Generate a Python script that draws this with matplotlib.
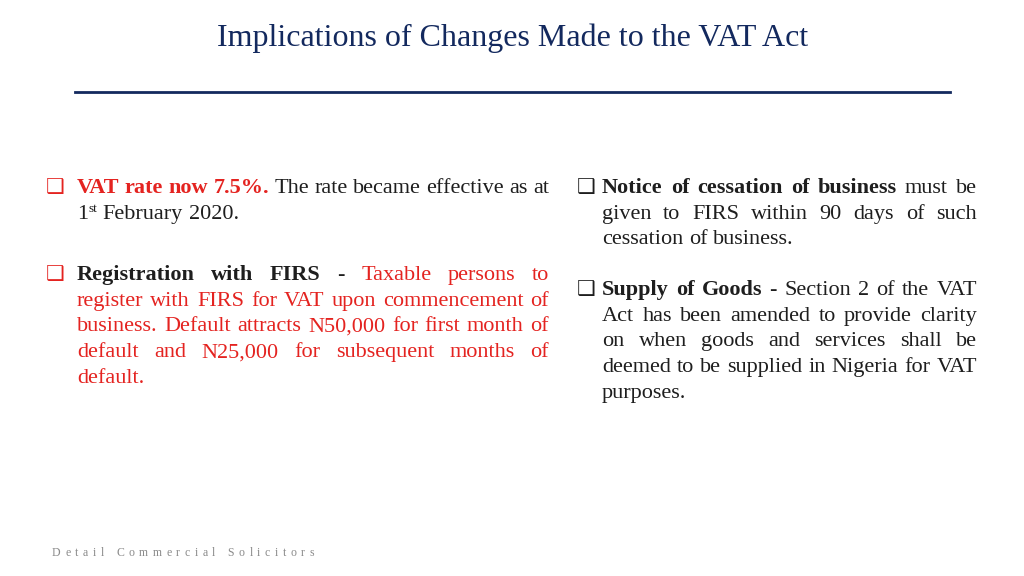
import matplotlib
matplotlib.use('Agg')
import matplotlib.pyplot as plt
from matplotlib.transforms import IdentityTransform
from matplotlib.lines import Line2D

W, H = 1024, 576
RED = '#E42320'
INK = '#1E1E1E'
NAVY = '#13295E'
GREY = '#8A8A8A'
SERIF = 'Liberation Serif'

title = 'Implications of Changes Made to the VAT Act'
footer = 'Detail Commercial Solicitors'

# paragraphs: each line is a list of (text, style, colour); style b = bold, n = normal, sup = superscript
left_paras = [
    [
        [('VAT rate now 7.5%.', 'b', RED), ('The rate became effective as at', 'n', INK)],
        [('1', 'n', INK), ('st', 'sup', INK), ('February 2020.', 'n', INK)],
    ],
    [
        [('Registration with FIRS', 'b', INK), ('-', 'n', INK), ('Taxable persons to', 'n', RED)],
        [('register with FIRS for VAT upon commencement of', 'n', RED)],
        [('business. Default attracts N50,000 for first month of', 'n', RED)],
        [('default and N25,000 for subsequent months of', 'n', RED)],
        [('default.', 'n', RED)],
    ],
]
right_paras = [
    [
        [('Notice of cessation of business', 'b', INK), ('must be', 'n', INK)],
        [('given to FIRS within 90 days of such', 'n', INK)],
        [('cessation of business.', 'n', INK)],
    ],
    [
        [('Supply of Goods', 'b', INK), ('- Section 2 of the VAT', 'n', INK)],
        [('Act has been amended to provide clarity', 'n', INK)],
        [('on when goods and services shall be', 'n', INK)],
        [('deemed to be supplied in Nigeria for VAT', 'n', INK)],
        [('purposes.', 'n', INK)],
    ],
]

fig = plt.figure(figsize=(W / 100, H / 100), dpi=100)
fig.patch.set_facecolor('white')
r = fig.canvas.get_renderer()
T = IdentityTransform()
FS = 16.0
LEAD = 25.7


def txt(x, base, s, **kw):
    return fig.text(x, H - base, s, transform=T, va='baseline', ha='left', **kw)


def style_kw(style, color):
    kw = dict(family=SERIF, color=color, fontsize=FS)
    if style == 'b':
        kw['weight'] = 'bold'
    if style == 'sup':
        kw['fontsize'] = FS * 0.6
    return kw


def width(s, **kw):
    t = fig.text(0, 0, s, transform=T, **kw)
    w = t.get_window_extent(r).width
    t.remove()
    return w


SPACE = width('a a', family=SERIF, fontsize=FS) - width('aa', family=SERIF, fontsize=FS)


def draw_line(line, x0, x1, base, justify):
    # words: list of lists of pieces glued together
    words = []
    for text, style, color in line:
        if style == 'sup':
            words[-1].append((text, style, color))
            continue
        for w in text.split(' '):
            words.append([(w, style, color)])
    widths = [sum(width(p[0], **style_kw(p[1], p[2])) for p in w) for w in words]
    gap = SPACE
    if justify and len(words) > 1:
        gap = (x1 - x0 - sum(widths)) / (len(words) - 1)
    x = x0
    for w, ww in zip(words, widths):
        xx = x
        for text, style, color in w:
            kw = style_kw(style, color)
            b = base - 7 if style == 'sup' else base
            txt(xx, b, text, **kw)
            xx += width(text, **kw)
        x += ww + gap


def draw_column(paras, bx, bcolor, x0, x1, bases):
    for para, b0 in zip(paras, bases):
        txt(bx, b0, '\u2751', family='DejaVu Sans', fontsize=15, color=bcolor)
        for i, line in enumerate(para):
            draw_line(line, x0, x1, b0 + i * LEAD, i < len(para) - 1)


draw_column(left_paras, 46, RED, 77, 549, [193, 280])
draw_column(right_paras, 577, INK, 602, 977, [193, 295])

# title and rule
fig.text(513, H - 46, title, transform=T, ha='center', va='baseline',
         family=SERIF, fontsize=23, color=NAVY)
fig.add_artist(Line2D([75, 950], [H - 92, H - 92], transform=T, color=NAVY, lw=2))

# letter-spaced footer
x = 52
for ch in footer:
    kw = dict(family=SERIF, fontsize=8.5, color=GREY)
    if ch != ' ':
        txt(x, 556, ch, **kw)
        x += width(ch, **kw) + 4.6
    else:
        x += 7.5

fig.savefig('out.png', dpi=100, facecolor='white')
